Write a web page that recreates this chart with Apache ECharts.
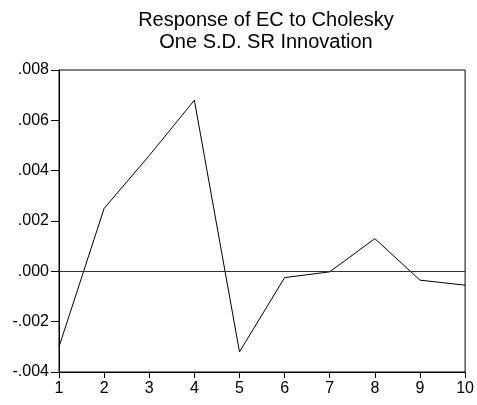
<!DOCTYPE html>
<html><head><meta charset="utf-8">
<script src="https://cdn.jsdelivr.net/npm/echarts@6/dist/echarts.min.js"></script>
<style>html,body{margin:0;padding:0;background:#fff}#c{width:477px;height:405px}</style>
</head><body><div id="c"></div>
<script>
const periods = [1,2,3,4,5,6,7,8,9,10];
const response = [-0.0030, 0.0025, 0.0046, 0.0068, -0.0032, -0.00025, -0.00002, 0.0013, -0.00035, -0.00055];
const titleLines = ['Response of EC to Cholesky', 'One S.D. SR Innovation'];
const fmt = v => { if (Math.abs(v) < 1e-12) return '.000'; const s = Math.abs(v).toFixed(3).replace(/^0/, ''); return (v < 0 ? '-' : '') + s; };
const chart = echarts.init(document.getElementById('c'), null, {renderer:'canvas'});
chart.setOption({
  animation:false,
  title:{text:titleLines.join('\n'), left:261, textAlign:'center', top:4,
    textStyle:{fontFamily:'Liberation Sans', fontSize:20, fontWeight:'normal', color:'#000', lineHeight:22.5}},
  grid:{left:59, right:11, top:70, bottom:33, show:true, borderColor:'#000', borderWidth:1},
  xAxis:{type:'value', min:1, max:10, interval:1,
    axisLine:{show:true, onZero:false, lineStyle:{color:'#000'}},
    axisTick:{show:true, length:6, lineStyle:{color:'#000'}},
    axisLabel:{color:'#000', fontFamily:'Liberation Sans', fontSize:16, margin:9},
    splitLine:{show:false}},
  yAxis:{type:'value', min:-0.004, max:0.008, interval:0.002,
    axisLine:{show:true, lineStyle:{color:'#000'}},
    axisTick:{show:true, length:8, lineStyle:{color:'#000'}},
    axisLabel:{color:'#000', fontFamily:'Liberation Sans', fontSize:16, margin:10, formatter:fmt},
    splitLine:{show:false}},
  series:[{type:'line', data:periods.map((p,i)=>[p,response[i]]), showSymbol:false,
    lineStyle:{color:'#000', width:1}, 
    markLine:{silent:true, symbol:'none', label:{show:false}, lineStyle:{color:'#333', width:1, type:'solid'}, data:[{yAxis:0}]}}]
});
</script></body></html>
